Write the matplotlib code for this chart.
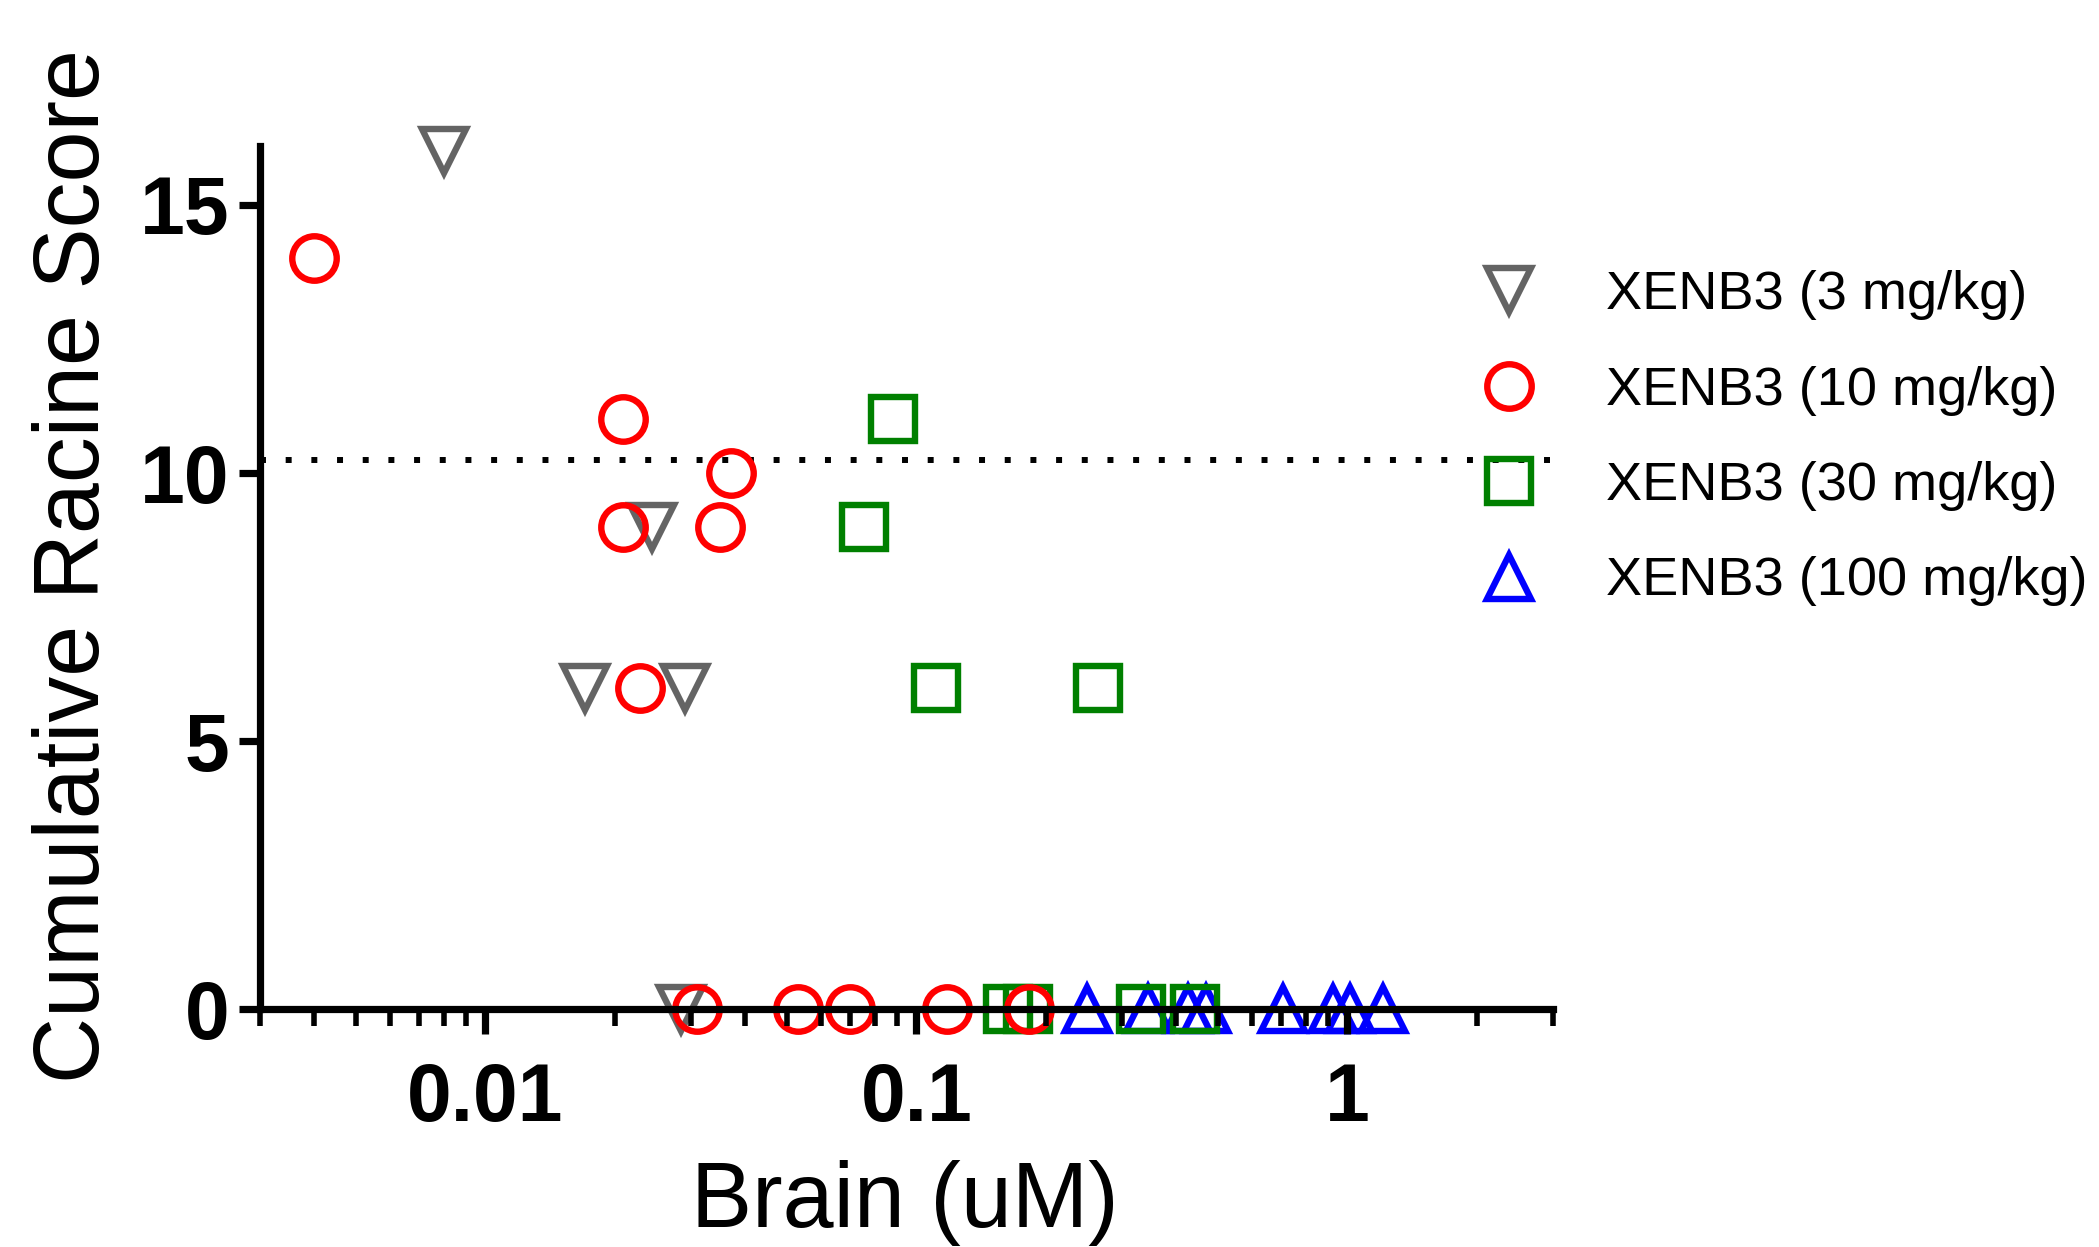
import numpy as np
import matplotlib
matplotlib.use('Agg')
import matplotlib.pyplot as plt
from matplotlib.ticker import LogLocator, FixedLocator, NullFormatter

plt.rcParams['font.family'] = ['Liberation Sans', 'DejaVu Sans']

# brain concentration (uM) vs cumulative racine score, per dose group
x_3 = [0.0080, 0.0244, 0.0170, 0.0290, 0.0285]
y_3 = [16, 9, 6, 6, 0]

x_10 = [0.0040, 0.0209, 0.0209, 0.0371, 0.0350, 0.0229,
        0.0310, 0.0531, 0.0700, 0.1178, 0.1823]
y_10 = [14, 11, 9, 10, 9, 6, 0, 0, 0, 0, 0]

x_30 = [0.0885, 0.0754, 0.1112, 0.2636, 0.1628, 0.1817, 0.3323, 0.4421]
y_30 = [11, 9, 6, 6, 0, 0, 0, 0]

x_100 = [0.2493, 0.344, 0.426, 0.469, 0.7091, 0.926, 1.012, 1.209]
y_100 = [0, 0, 0, 0, 0, 0, 0, 0]

labels = ['XENB3 (3 mg/kg)', 'XENB3 (10 mg/kg)', 'XENB3 (30 mg/kg)', 'XENB3 (100 mg/kg)']
threshold = 10.25

fig = plt.figure(figsize=(20.99, 12.47), dpi=100)
ax = fig.add_axes([260 / 2099, 1 - 1009.4 / 1247, 1293 / 2099, 863.6 / 1247])

ms = 32
mew = 4.6
kw = dict(linestyle='none', markerfacecolor='none', markersize=ms,
          markeredgewidth=mew, clip_on=False)
ax.plot(x_3, y_3, marker='v', color='#646464', label=labels[0], zorder=1.1, **kw)
ax.plot(x_10, y_10, marker='o', color='#ff0000', label=labels[1], zorder=1.4, **kw)
ax.plot(x_30, y_30, marker='s', color='#008000', label=labels[2], zorder=1.3, **kw)
ax.plot(x_100, y_100, marker='^', color='#0000ff', label=labels[3], zorder=1.2, **kw)

ax.axhline(threshold, color='black', lw=4.3, dashes=(1, 3.3),
           dash_capstyle='butt', zorder=1.0)

ax.set_xscale('log')
ax.set_xlim(0.003, 3)
ax.set_ylim(0, 16.1)

ax.spines['top'].set_visible(False)
ax.spines['right'].set_visible(False)
for s in ['left', 'bottom']:
    ax.spines[s].set_linewidth(5.2)

ax.xaxis.set_major_locator(FixedLocator([0.01, 0.1, 1]))
ax.set_xticklabels(['0.01', '0.1', '1'])
ax.xaxis.set_minor_locator(LogLocator(base=10, subs=np.arange(2, 10)))
ax.xaxis.set_minor_formatter(NullFormatter())
ax.set_yticks([0, 5, 10, 15])

ax.tick_params(axis='x', which='major', length=18, width=5.2, pad=20,
               labelsize=58)
ax.tick_params(axis='x', which='minor', length=12, width=4)
ax.tick_params(axis='y', which='major', length=15, width=5.2, pad=7,
               labelsize=58)
for t in ax.get_xticklabels() + ax.get_yticklabels():
    t.set_fontweight('bold')

ax.set_xlabel('Brain (uM)', fontsize=66, va='baseline')
ax.xaxis.set_label_coords(0.499, -0.2525)
ax.set_ylabel('Cumulative Racine Score', fontsize=66, va='center')
ax.yaxis.set_label_coords(-0.143, 0.514)

ax.legend(loc='upper left', bbox_to_anchor=(1482 / 2099, 1 - 270 / 1247),
          bbox_transform=fig.transFigure, frameon=False, fontsize=39,
          numpoints=1, handlelength=1.0, handletextpad=1.28,
          labelspacing=0.84, borderpad=0, borderaxespad=0)

fig.savefig('out.png', dpi=100)
